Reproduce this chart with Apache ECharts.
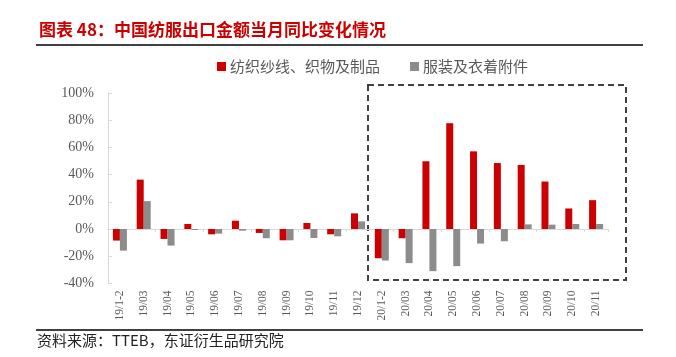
<!DOCTYPE html>
<html>
<head>
<meta charset="utf-8">
<script src="https://cdn.jsdelivr.net/npm/echarts@6/dist/echarts.min.js"></script>
<style>html,body{margin:0;padding:0;background:#fff}#c{width:676px;height:357px}</style>
</head>
<body>
<div id="c"></div>
<script>
const categories = ['19/1-2','19/03','19/04','19/05','19/06','19/07','19/08','19/09','19/10','19/11','19/12',
  '20/1-2','20/03','20/04','20/05','20/06','20/07','20/08','20/09','20/10','20/11'];
const textileValues = [-8.5, 36.3, -7.3, 3.7, -3.9, 6.1, -2.9, -8.3, 4.4, -3.9, 11.5,
  -21.5, -6.8, 49.8, 77.8, 57.1, 48.5, 47.1, 34.9, 15.1, 21.2];
const garmentValues = [-15.9, 20.5, -12.2, -0.7, -3.4, -1.2, -6.8, -8.3, -6.6, -5.4, 5.6,
  -23.2, -25.1, -31.0, -27.3, -10.7, -9.0, 3.4, 3.2, 3.7, 3.7];
const seriesNames = ['纺织纱线、织物及制品', '服装及衣着附件'];
const yTicks = { min: -40, max: 100, interval: 20 };

const serif = "'Liberation Serif','Noto Sans CJK SC',serif";
const cjk = "'Noto Sans CJK SC',sans-serif";
const chart = echarts.init(document.getElementById('c'), null, { renderer: 'canvas' });
chart.setOption({
  animation: false,
  backgroundColor: '#fff',
  grid: { left: 108, right: 68, top: 93, bottom: 73.6, containLabel: false },
  legend: {
    left: 212, top: 54, itemWidth: 9, itemHeight: 9, itemGap: 30,
    icon: 'rect',
    textStyle: { color: '#595959', fontSize: 15, fontFamily: cjk, padding: [0,0,0,-1] },
    data: seriesNames
  },
  xAxis: [{
    type: 'category', data: categories, position: 'bottom',
    axisLine: { show: false, onZero: false },
    axisTick: { show: false },
    axisLabel: { rotate: 90, color: '#595959', fontSize: 11.5, fontFamily: serif, margin: 7, interval: 0 }
  }, {
    type: 'category', data: categories, position: 'bottom',
    axisLine: { show: true, onZero: true, lineStyle: { color: '#D9D9D9', width: 1 } },
    axisTick: { show: true, length: 3, lineStyle: { color: '#D9D9D9' } },
    axisLabel: { show: false }
  }],
  yAxis: {
    type: 'value', min: yTicks.min, max: yTicks.max, interval: yTicks.interval,
    axisLine: { show: true, lineStyle: { color: '#D9D9D9' } },
    axisTick: { show: true, inside: true, length: 4, lineStyle: { color: '#D9D9D9' } },
    splitLine: { show: false },
    axisLabel: { formatter: '{value}%', color: '#595959', fontSize: 14, fontFamily: serif, margin: 14 }
  },
  series: [{
    name: seriesNames[0], type: 'bar', data: textileValues, barWidth: 7, barGap: '0%',
    itemStyle: { color: '#CC0000' }
  }, {
    name: seriesNames[1], type: 'bar', data: garmentValues, barWidth: 7, barGap: '0%',
    itemStyle: { color: '#8C8C8C' }
  }],
  graphic: [
    { type: 'text', left: 39, top: 21, style: { text: '图表 48：中国纺服出口金额当月同比变化情况', fill: '#CC0000', font: "bold 17px 'Noto Sans CJK SC'" } },
    { type: 'line', shape: { x1: 36, y1: 45, x2: 643, y2: 45 }, style: { stroke: '#000', lineWidth: 1.5 } },
    { type: 'line', shape: { x1: 36, y1: 330, x2: 643, y2: 330 }, style: { stroke: '#000', lineWidth: 1.5 } },
    { type: 'text', left: 37, top: 333, style: { text: '资料来源：TTEB，东证衍生品研究院', fill: '#222', font: "15px 'Noto Sans CJK SC'" } },
    { type: 'rect', shape: { x: 368, y: 85, width: 258, height: 195 }, style: { fill: 'none', stroke: '#404040', lineWidth: 2, lineDash: [6, 4] } }
  ]
});
</script>
</body>
</html>
